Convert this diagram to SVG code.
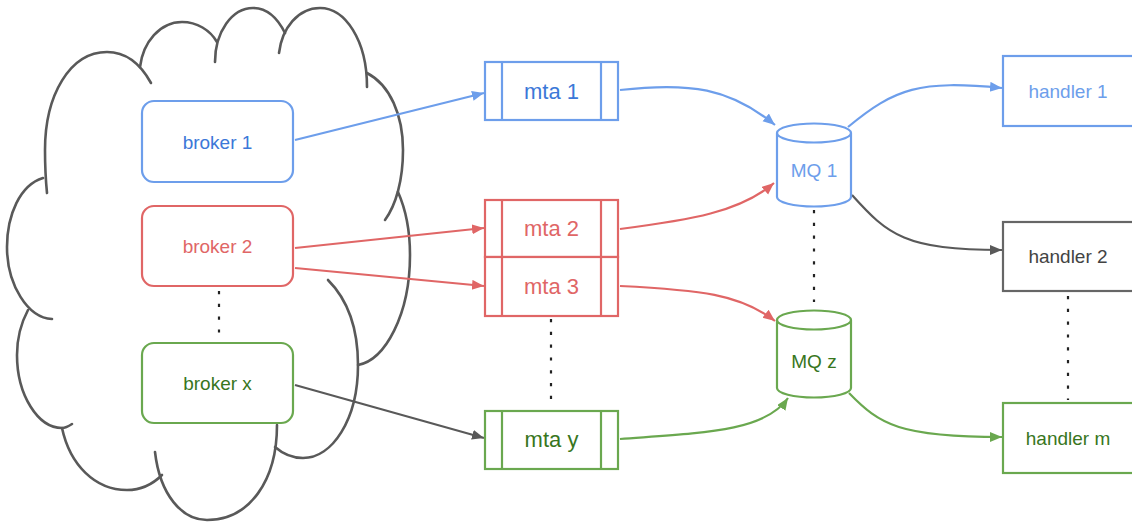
<svg xmlns="http://www.w3.org/2000/svg" width="1132" height="531" viewBox="0 0 1132 531">
<defs>
<style>
text{font-family:"Liberation Sans",Arial,sans-serif;font-size:19px;text-anchor:middle}
.cloud path{fill:none;stroke:#595959;stroke-width:2.6;stroke-linecap:round}
.blue{stroke:#6d9eeb}
.red{stroke:#e06666}
.green{stroke:#6aa84f}
.gray{stroke:#595959}
.box{fill:#fff;stroke-width:2.2}
.conn path{fill:none;stroke-width:2.2}
.dots{stroke:#222;stroke-width:3.2;stroke-dasharray:3.2 9.6;fill:none}
.tb{fill:#3c78d8}.tlb{fill:#6d9eeb}.tr{fill:#e06666}.tg{fill:#38761d}.tk{fill:#434343}
.mta{font-size:22px}
</style>
<marker id="ab" markerUnits="userSpaceOnUse" markerWidth="14" markerHeight="12" refX="12" refY="5" orient="auto"><path d="M0,0 L12,5 L0,10 z" fill="#6d9eeb"/></marker>
<marker id="ar" markerUnits="userSpaceOnUse" markerWidth="14" markerHeight="12" refX="12" refY="5" orient="auto"><path d="M0,0 L12,5 L0,10 z" fill="#e06666"/></marker>
<marker id="ag" markerUnits="userSpaceOnUse" markerWidth="14" markerHeight="12" refX="12" refY="5" orient="auto"><path d="M0,0 L12,5 L0,10 z" fill="#6aa84f"/></marker>
<marker id="ak" markerUnits="userSpaceOnUse" markerWidth="14" markerHeight="12" refX="12" refY="5" orient="auto"><path d="M0,0 L12,5 L0,10 z" fill="#595959"/></marker>
</defs>
<rect width="1132" height="531" fill="#fff"/>
<g id="cloud" class="cloud">
<path d="M151,83 C140,63 125,52 107,52 C70,52 45,95 45,150 C45,170 46,183 47,193"/>
<path d="M43,178 C20,185 7,215 7,247 C7,285 28,318 52,319"/>
<path d="M28,310 C20,325 17,340 17,355 C17,395 38,428 62,428 C66,428 69,426 72,424"/>
<path d="M62,428 C70,465 95,490 127,490 C142,490 154,483 162,475"/>
<path d="M155,452 C160,495 182,520 207,520 C250,520 277,480 277,425"/>
<path d="M328,280 C348,300 358,330 358,365 C358,420 332,458 303,458 C292,458 283,454 275,447"/>
<path d="M398,192 C406,210 410,232 410,255 C410,315 385,360 358,365"/>
<path d="M367,73 C390,85 403,115 403,150 C403,180 396,205 385,220"/>
<path d="M367,87 C367,40 345,8 320,8 C298,8 282,28 279,53"/>
<path d="M285,33 C277,17 266,8 253,8 C232,8 215,32 215,62"/>
<path d="M217,42 C210,30 197,22 182,22 C160,22 143,42 140,67"/>
</g>
<g id="connectors" class="conn">
<path class="blue" d="M295,140 L484,93" marker-end="url(#ab)"/>
<path class="red" d="M295,248 L484,228" marker-end="url(#ar)"/>
<path class="red" d="M295,268 L484,286" marker-end="url(#ar)"/>
<path class="gray" d="M295,385 L484,438" marker-end="url(#ak)"/>
<path class="blue" d="M620,90 C690,82 730,88 775,125" marker-end="url(#ab)"/>
<path class="red" d="M620,229 C690,220 740,212 774,183" marker-end="url(#ar)"/>
<path class="red" d="M620,286 C700,290 740,294 775,321" marker-end="url(#ar)"/>
<path class="green" d="M620,439 C700,433 765,432 788,398" marker-end="url(#ag)"/>
<path class="blue" d="M848,127 C895,88 920,80 1002,88" marker-end="url(#ab)"/>
<path class="gray" d="M852,195 C888,235 905,250 1002,250" marker-end="url(#ak)"/>
<path class="green" d="M849,393 C880,425 900,437 1002,437" marker-end="url(#ag)"/>
<path class="dots" d="M219,291 V340"/>
<path class="dots" d="M551,319 V408"/>
<path class="dots" d="M814,210 V302"/>
<path class="dots" d="M1068,296 V400"/>
</g>
<g id="broker1"><rect class="box blue" x="142" y="101" width="151" height="81" rx="12"/><text class="tb" x="217.5" y="148.5">broker 1</text></g>
<g id="broker2"><rect class="box red" x="142" y="206" width="151" height="80" rx="12"/><text class="tr" x="217.5" y="253">broker 2</text></g>
<g id="brokerx"><rect class="box green" x="142" y="343" width="151" height="80" rx="12"/><text class="tg" x="217.5" y="390">broker x</text></g>
<g id="mta1"><rect class="box blue" x="485" y="62" width="133" height="58"/><path class="blue" d="M502,62 V120 M601,62 V120" fill="none" stroke-width="2.2"/><text class="tb mta" x="551.5" y="99">mta 1</text></g>
<g id="mta2"><rect class="box red" x="485" y="200" width="133" height="57"/><path class="red" d="M502,200 V257 M601,200 V257" fill="none" stroke-width="2.2"/><text class="tr mta" x="551.5" y="236">mta 2</text></g>
<g id="mta3"><rect class="box red" x="485" y="257" width="133" height="59"/><path class="red" d="M502,257 V316 M601,257 V316" fill="none" stroke-width="2.2"/><text class="tr mta" x="551.5" y="294">mta 3</text></g>
<g id="mtay"><rect class="box green" x="485" y="411" width="133" height="58"/><path class="green" d="M502,411 V469 M601,411 V469" fill="none" stroke-width="2.2"/><text class="tg mta" x="551.5" y="447">mta y</text></g>
<g id="mq1"><path class="box blue" d="M777,133 A37,9.5 0 0 1 851,133 L851,197 A37,9.5 0 0 1 777,197 Z M777,133 A37,9.5 0 0 0 851,133"/><text class="tlb" x="814" y="177">MQ 1</text></g>
<g id="mqz"><path class="box green" d="M777,320 A37,9.5 0 0 1 851,320 L851,388 A37,9.5 0 0 1 777,388 Z M777,320 A37,9.5 0 0 0 851,320"/><text class="tg" x="814" y="368">MQ z</text></g>
<g id="handler1"><rect class="box blue" x="1003" y="56" width="131" height="70"/><text class="tlb" x="1068" y="97.5">handler 1</text></g>
<g id="handler2"><rect class="box" stroke="#666" x="1003" y="222" width="131" height="69"/><text class="tk" x="1068" y="263">handler 2</text></g>
<g id="handlerm"><rect class="box green" x="1003" y="403" width="131" height="70"/><text class="tg" x="1068" y="444.5">handler m</text></g>
</svg>
